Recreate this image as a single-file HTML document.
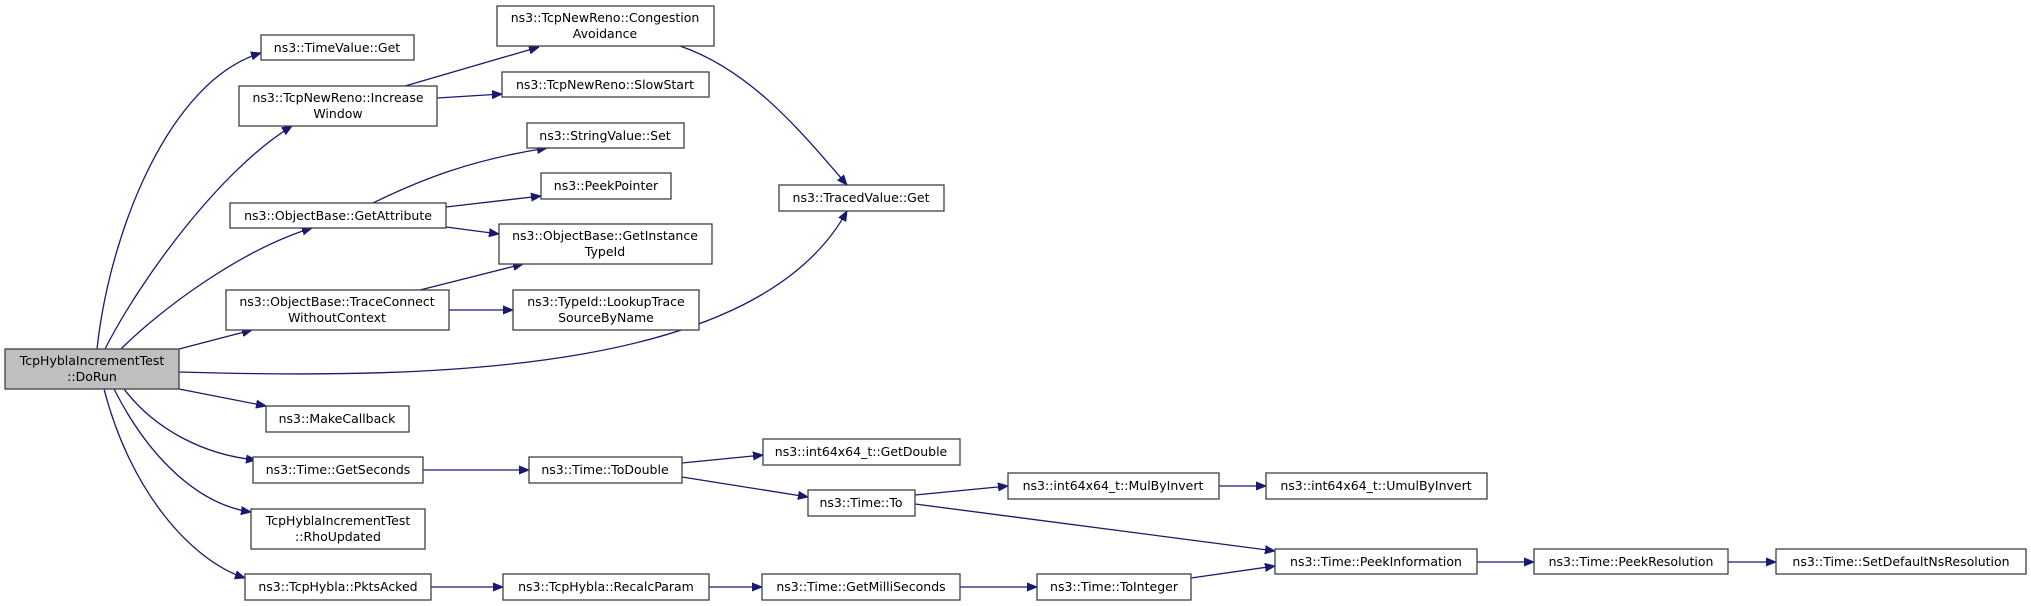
<!DOCTYPE html>
<html><head><meta charset="utf-8"><style>
html,body{margin:0;padding:0;background:#fff;}
svg{display:block;}
text{font-family:"DejaVu Sans","Liberation Sans",sans-serif;font-size:12.5px;fill:#000;}
.b{fill:#fff;stroke:#404040;stroke-width:1.3;}
.e{fill:none;stroke:#191970;stroke-width:1.3;}
</style></head><body>
<svg width="2031" height="606" viewBox="0 0 2031 606" xmlns="http://www.w3.org/2000/svg">
<defs><marker id="a" viewBox="0 0 10 10" refX="10" refY="5" markerWidth="10" markerHeight="10" markerUnits="userSpaceOnUse" orient="auto"><path d="M0,1 L10,5 L0,9 z" fill="#191970" stroke="#191970"/></marker></defs>
<g class="e" marker-end="url(#a)">
<path d="M97,349 C110,230 170,80 261,53"/>
<path d="M105,349 C140,280 220,170 292,126"/>
<path d="M121,349 C160,310 240,250 312,228"/>
<path d="M179,349 L252,330"/>
<path d="M179,372 C450,380 760,370 847,211"/>
<path d="M179,389 L266,406"/>
<path d="M124,389 C155,430 205,455 256,460"/>
<path d="M114,389 C150,460 200,505 251,512"/>
<path d="M104,389 C130,490 190,560 245,578"/>
<path d="M405,86 L539,47"/>
<path d="M437,98 L502,94"/>
<path d="M373,203 C420,180 470,160 547,148"/>
<path d="M446,207 L541,196"/>
<path d="M446,227 L499,234"/>
<path d="M420,290 L523,264"/>
<path d="M449,310 L513,310"/>
<path d="M680,46 C750,70 800,130 847,185"/>
<path d="M423,470 L529,470"/>
<path d="M682,463 L763,455"/>
<path d="M682,477 L808,497"/>
<path d="M915,495 L1008,486"/>
<path d="M915,504 L1275,551"/>
<path d="M1219,486 L1266,486"/>
<path d="M431,587 L503,587"/>
<path d="M709,587 L762,587"/>
<path d="M960,587 L1037,587"/>
<path d="M1191,578 L1275,566"/>
<path d="M1477,562 L1534,562"/>
<path d="M1728,562 L1776,562"/>
</g>
<g text-anchor="middle">
<rect x="5" y="349" width="174" height="40" fill="#bfbfbf" stroke="#404040" stroke-width="1.3"/>
<text x="92" y="365">TcpHyblaIncrementTest</text><text x="92" y="381">::DoRun</text>
<rect class="b" x="261" y="35" width="153" height="25"/><text x="337" y="52">ns3::TimeValue::Get</text>
<rect class="b" x="239" y="86" width="198" height="40"/><text x="338" y="102">ns3::TcpNewReno::Increase</text><text x="338" y="118">Window</text>
<rect class="b" x="497" y="6" width="217" height="40"/><text x="605" y="22">ns3::TcpNewReno::Congestion</text><text x="605" y="38">Avoidance</text>
<rect class="b" x="502" y="72" width="207" height="25"/><text x="605" y="89">ns3::TcpNewReno::SlowStart</text>
<rect class="b" x="527" y="123" width="157" height="25"/><text x="605" y="140">ns3::StringValue::Set</text>
<rect class="b" x="541" y="173" width="130" height="26"/><text x="606" y="190">ns3::PeekPointer</text>
<rect class="b" x="230" y="203" width="216" height="25"/><text x="338" y="220">ns3::ObjectBase::GetAttribute</text>
<rect class="b" x="499" y="224" width="213" height="40"/><text x="605" y="240">ns3::ObjectBase::GetInstance</text><text x="605" y="256">TypeId</text>
<rect class="b" x="226" y="290" width="223" height="40"/><text x="337" y="306">ns3::ObjectBase::TraceConnect</text><text x="337" y="322">WithoutContext</text>
<rect class="b" x="513" y="290" width="186" height="40"/><text x="606" y="306">ns3::TypeId::LookupTrace</text><text x="606" y="322">SourceByName</text>
<rect class="b" x="779" y="185" width="165" height="26"/><text x="861" y="202">ns3::TracedValue::Get</text>
<rect class="b" x="266" y="406" width="143" height="26"/><text x="337" y="423">ns3::MakeCallback</text>
<rect class="b" x="253" y="457" width="170" height="26"/><text x="338" y="474">ns3::Time::GetSeconds</text>
<rect class="b" x="529" y="457" width="153" height="26"/><text x="605" y="474">ns3::Time::ToDouble</text>
<rect class="b" x="763" y="439" width="197" height="26"/><text x="861" y="456">ns3::int64x64_t::GetDouble</text>
<rect class="b" x="808" y="490" width="107" height="26"/><text x="861" y="507">ns3::Time::To</text>
<rect class="b" x="251" y="509" width="174" height="40"/><text x="338" y="525">TcpHyblaIncrementTest</text><text x="338" y="541">::RhoUpdated</text>
<rect class="b" x="245" y="574" width="186" height="26"/><text x="338" y="591">ns3::TcpHybla::PktsAcked</text>
<rect class="b" x="503" y="574" width="206" height="26"/><text x="606" y="591">ns3::TcpHybla::RecalcParam</text>
<rect class="b" x="762" y="574" width="198" height="26"/><text x="861" y="591">ns3::Time::GetMilliSeconds</text>
<rect class="b" x="1008" y="473" width="211" height="26"/><text x="1113" y="490">ns3::int64x64_t::MulByInvert</text>
<rect class="b" x="1266" y="473" width="221" height="26"/><text x="1376" y="490">ns3::int64x64_t::UmulByInvert</text>
<rect class="b" x="1275" y="549" width="202" height="25"/><text x="1376" y="566">ns3::Time::PeekInformation</text>
<rect class="b" x="1534" y="549" width="194" height="25"/><text x="1631" y="566">ns3::Time::PeekResolution</text>
<rect class="b" x="1776" y="549" width="250" height="25"/><text x="1901" y="566">ns3::Time::SetDefaultNsResolution</text>
<rect class="b" x="1037" y="574" width="154" height="26"/><text x="1114" y="591">ns3::Time::ToInteger</text>
</g>
</svg>
</body></html>
